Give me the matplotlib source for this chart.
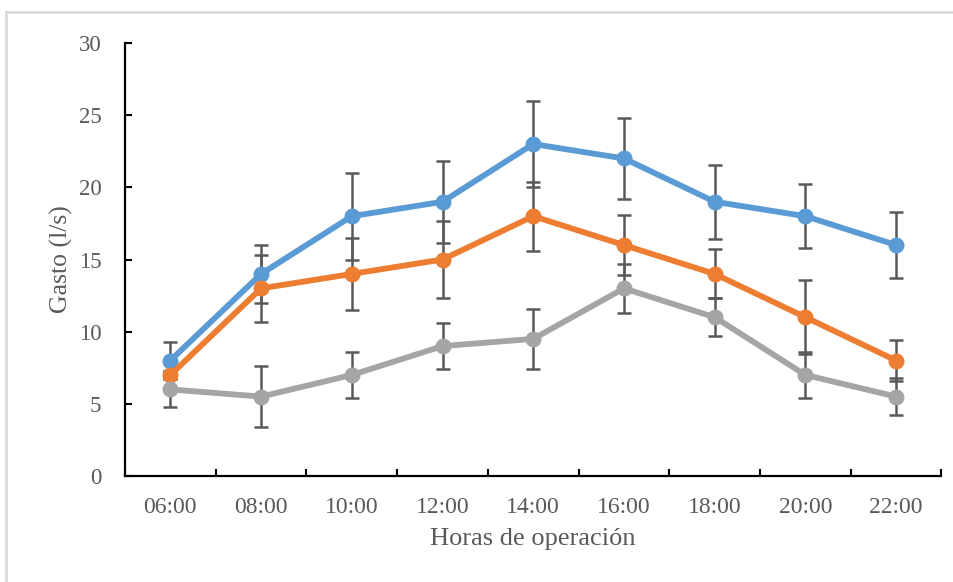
import matplotlib
matplotlib.use("Agg")
import matplotlib.pyplot as plt
from matplotlib.lines import Line2D
import numpy as np

hours = ["06:00", "08:00", "10:00", "12:00", "14:00", "16:00", "18:00", "20:00", "22:00"]
serie_azul = [8, 14, 18, 19, 23, 22, 19, 18, 16]
error_azul = [1.3, 2.0, 3.0, 2.85, 3.0, 2.8, 2.55, 2.2, 2.3]
serie_naranja = [7, 13, 14, 15, 18, 16, 14, 11, 8]
error_naranja = [0.3, 2.3, 2.5, 2.7, 2.4, 2.1, 1.7, 2.55, 1.4]
serie_gris = [6, 5.5, 7, 9, 9.5, 13, 11, 7, 5.5]
error_gris = [1.25, 2.1, 1.6, 1.57, 2.1, 1.7, 1.3, 1.58, 1.3]
y_ticks = [0, 5, 10, 15, 20, 25, 30]

plt.rcParams['font.family'] = ['Liberation Serif', 'DejaVu Serif']

fig = plt.figure(figsize=(9.54, 5.82), dpi=100)
ax = fig.add_axes([125/954, 1 - 476/582, (941.5-125)/954, (476-43)/582])

x = np.arange(len(hours))
series = [
    (serie_azul, error_azul, "#5B9BD5"),
    (serie_naranja, error_naranja, "#ED7D31"),
    (serie_gris, error_gris, "#A5A5A5"),
]
# error bars below lines
for vals, errs, col in series:
    ax.errorbar(x, vals, yerr=errs, fmt='none', ecolor='#595959',
                elinewidth=1.8, capsize=5, capthick=1.8, zorder=1)
for i, (vals, errs, col) in enumerate(series):
    ax.plot(x, vals, color=col, lw=4.2, marker='o', markersize=11.5,
            markeredgewidth=0, zorder=2 + i, solid_capstyle='round')

ax.set_xlim(-0.5, len(hours) - 0.5)
ax.set_ylim(0, 30)
ax.set_yticks(y_ticks)
ax.set_yticklabels([str(v) for v in y_ticks])
ax.set_xticks(x)
ax.set_xticklabels(hours)
ax.set_xticks(np.arange(-0.5, len(hours), 1.0), minor=True)

ax.tick_params(axis='x', which='major', length=0, pad=15, labelsize=17, labelcolor='#595959')
ax.tick_params(axis='x', which='minor', direction='in', length=5, width=1.5, color='black')
ax.tick_params(axis='y', which='major', direction='in', length=5, width=1.5, color='black',
               pad=17, labelsize=16.5, labelcolor='#595959')

for s in ['top', 'right']:
    ax.spines[s].set_visible(False)
for s in ['left', 'bottom']:
    ax.spines[s].set_linewidth(1.6)
    ax.spines[s].set_color('black')

ax.set_xlabel("Horas de operación", fontsize=19, color='#595959', labelpad=7)
ax.set_ylabel("Gasto (l/s)", fontsize=18.5, color='#595959', labelpad=4)

# outer chart frame (partially visible)
fig.add_artist(Line2D([6/954, 1], [1 - 12/582, 1 - 12/582], transform=fig.transFigure,
                      color='#D9D9D9', lw=2))
fig.add_artist(Line2D([6/954, 6/954], [0, 1 - 12/582], transform=fig.transFigure,
                      color='#D9D9D9', lw=2))

fig.savefig("out.png", dpi=100, facecolor='white')
